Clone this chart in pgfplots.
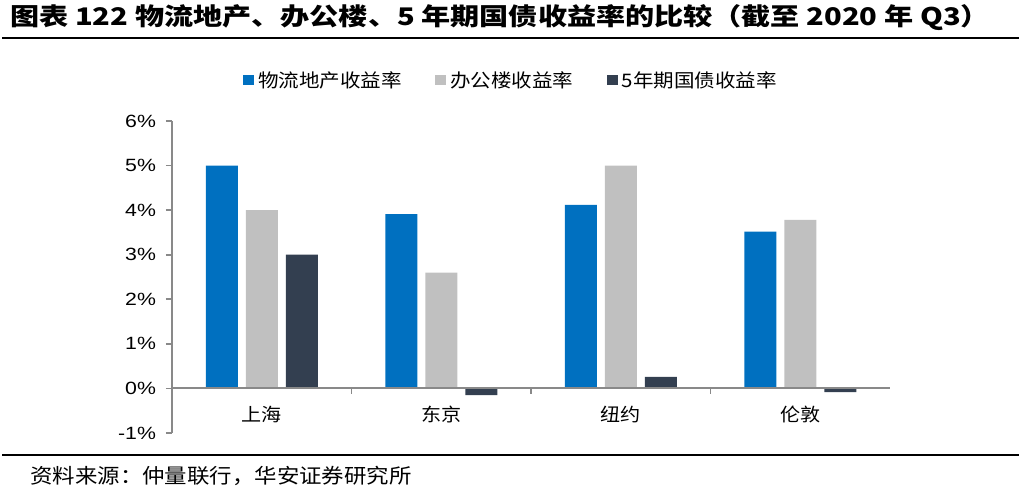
\documentclass[border=0pt]{standalone}
\usepackage{pgfplots}
\pgfplotsset{compat=1.18}
\usepackage{fontspec}
\setmainfont[FakeStretch=1.2]{Liberation Sans}
\newfontfamily\cjk[FakeStretch=1.1]{Noto Sans CJK SC}
\newfontfamily\cjktitle[FakeStretch=1.2]{Noto Sans CJK SC}

\definecolor{cblue}{HTML}{0070C0}
\definecolor{cgray}{HTML}{C0C0C0}
\definecolor{cdark}{HTML}{333F50}
\definecolor{axisgray}{HTML}{898989}

\begin{document}
\begin{tikzpicture}
% canvas in pixels of the reference: 1px = 0.75pt, y grows downward
\path[use as bounding box] (0,0) rectangle (765.75pt,-372pt);

% title and rules
\node[anchor=west, inner sep=0pt] at (7.5pt,-13.5pt)
  {\cjktitle\bfseries\fontsize{18.2}{20}\selectfont 图表 122 物流地产、办公楼、5 年期国债收益率的比较（截至 2020 年 Q3）};
\draw[line width=2.2pt] (1.5pt,-28.5pt) -- (764.25pt,-28.5pt);
\draw[line width=2.2pt] (1.5pt,-341.25pt) -- (764.25pt,-341.25pt);
\node[anchor=west, inner sep=0pt] at (22.5pt,-357pt)
  {\cjk\fontsize{15.3}{17}\selectfont 资料来源：仲量联行，华安证券研究所};

\begin{axis}[
  at={(129pt,-324.75pt)}, anchor=south west,
  width=538.5pt, height=234pt, scale only axis,
  xmin=-0.5, xmax=3.5, ymin=-1, ymax=6,
  ybar=6pt, bar width=24pt,
  axis y line=left, axis x line=middle,
  axis line style={-, draw=axisgray, line width=1.5pt},
  hide obscured x ticks=false, hide obscured y ticks=false,
  axis on top,
  xtick={0,1,2,3},
  xticklabels={上海,东京,纽约,伦敦},
  xtick style={draw=none},
  xticklabel style={font=\cjk\fontsize{13.7}{16}\selectfont, anchor=north, yshift=-5pt},
  ytick={-1,0,1,2,3,4,5,6},
  yticklabels={-1\%,0\%,1\%,2\%,3\%,4\%,5\%,6\%},
  ytick style={draw=axisgray, line width=1.2pt},
  tick align=outside, major tick length=4.5pt,
  yticklabel style={font=\fontsize{13.3}{15}\selectfont, xshift=-4pt},
  legend columns=3,
  legend style={at={(0.4735,1.131)}, anchor=center, draw=none,
    font=\cjk\fontsize{14}{16}\selectfont,
    /tikz/every even column/.append style={column sep=22pt},
    nodes={inner xsep=3pt}},
  legend image code/.code={\fill[#1] (0pt,-3.75pt) rectangle (8.25pt,3.75pt);},
]
\addplot[fill=cblue, draw=none] coordinates {(0,5.0) (1,3.91) (2,4.12) (3,3.52)};
\addlegendentry{物流地产收益率}
\addplot[fill=cgray, draw=none] coordinates {(0,4.0) (1,2.6) (2,5.0) (3,3.78)};
\addlegendentry{办公楼收益率}
\addplot[fill=cdark, draw=none] coordinates {(0,3.0) (1,-0.15) (2,0.26) (3,-0.08)};
\addlegendentry{5年期国债收益率}
% category separators on the zero line
\draw[axisgray, line width=1.2pt] (axis cs:0.5,0) -- ([yshift=-4.5pt]axis cs:0.5,0);
\draw[axisgray, line width=1.2pt] (axis cs:1.5,0) -- ([yshift=-4.5pt]axis cs:1.5,0);
\draw[axisgray, line width=1.2pt] (axis cs:2.5,0) -- ([yshift=-4.5pt]axis cs:2.5,0);
\end{axis}
\end{tikzpicture}
\end{document}
